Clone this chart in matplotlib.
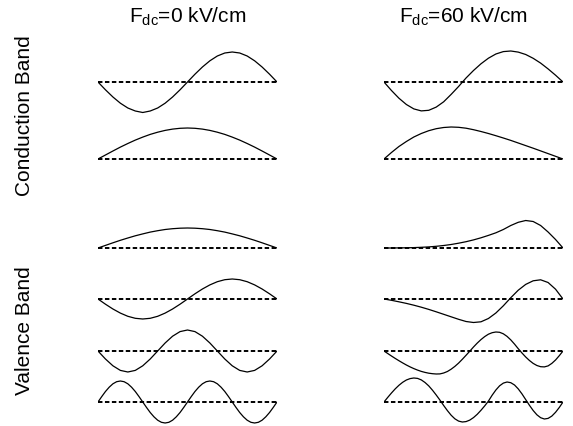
import matplotlib
matplotlib.use("Agg")
import matplotlib.pyplot as plt
import numpy as np

plt.rcParams["font.family"] = ["Liberation Sans", "DejaVu Sans"]
plt.rcParams["mathtext.fontset"] = "custom"
plt.rcParams["mathtext.rm"] = "Liberation Sans"
plt.rcParams["lines.scale_dashes"] = False

# position across the well (0..1): coarse grid, and a finer one for the wiggly states
z = np.linspace(0, 1, 25)
zf = np.linspace(0, 1, 49)

titles = [r"F$_{\rm dc}$=0 kV/cm", r"F$_{\rm dc}$=60 kV/cm"]
band_labels = ["Conduction Band", "Valence Band"]

# wavefunctions (arb. units), F = 0 kV/cm
cb2_0 = [0, -7.8, -15, -21.2, -26, -29, -30.5, -29, -26, -21.2, -15, -7.8, 0,
         7.8, 15, 21.2, 26, 29, 30, 29, 26, 21.2, 15, 7.8, 0]
cb1_0 = [0, 4, 8, 11.9, 15.5, 18.9, 21.9, 24.6, 26.8, 28.6, 29.9, 30.7, 31,
         30.7, 29.9, 28.6, 26.8, 24.6, 21.9, 18.9, 15.5, 11.9, 8, 4, 0]
vb1_0 = [0, 2.6, 5.2, 7.7, 10, 12.2, 14.1, 15.9, 17.3, 18.5, 19.3, 19.8, 20,
         19.8, 19.3, 18.5, 17.3, 15.9, 14.1, 12.2, 10, 7.7, 5.2, 2.6, 0]
vb2_0 = [0, -5.2, -10, -14.1, -17.3, -19.3, -20, -19.3, -17.3, -14.1, -10, -5.2, 0,
         5.2, 10, 14.1, 17.3, 19.3, 20, 19.3, 17.3, 14.1, 10, 5.2, 0]
vb3_0 = [0, -8, -14.8, -19.4, -21, -19.4, -14.8, -8, 0, 8, 14.8, 19.4, 21,
         19.4, 14.8, 8, 0, -8, -14.8, -19.4, -21, -19.4, -14.8, -8, 0]
vb4_0 = [0, 5.4, 10.5, 14.8, 18.2, 20.3, 21, 20.3, 18.2, 14.8, 10.5, 5.4,
         0, -5.4, -10.5, -14.8, -18.2, -20.3, -21, -20.3, -18.2, -14.8, -10.5, -5.4,
         0, 5.4, 10.5, 14.8, 18.2, 20.3, 21, 20.3, 18.2, 14.8, 10.5, 5.4,
         0, -5.4, -10.5, -14.8, -18.2, -20.3, -21, -20.3, -18.2, -14.8, -10.5, -5.4, 0]

# F = 60 kV/cm
cb2_60 = [0, -8.5, -16.2, -22.5, -26.9, -28.9, -28.3, -25.1, -19.8, -12.4, -4.5, 4, 11.5,
          18.2, 23.8, 28, 30.4, 31, 29.9, 27.5, 23.7, 18.9, 13.1, 6.8, 0]
cb1_60 = [0, 6.5, 12.5, 17.5, 22, 25.5, 28.3, 30.3, 31.5, 32, 31.7, 30.8, 29.3,
          27.5, 25.5, 23.3, 21, 18.6, 16, 13.4, 10.8, 8.1, 5.4, 2.7, 0]
vb1_60 = [0, 0, 0.1, 0.2, 0.4, 0.7, 1.1, 1.7, 2.5, 3.5, 4.8, 6.3, 8.1,
          10.2, 12.6, 15.2, 18.5, 22.5, 25.7, 27.5, 26.5, 22.5, 16, 8.5, 0]
vb2_60 = [0, -1.3, -2.8, -4.4, -6.2, -8.2, -10.4, -12.8, -15.3, -17.8, -20.3, -22.5, -23.5,
          -22.8, -19.5, -14, -6.8, 1.3, 8.8, 14.6, 18.2, 19.2, 16.5, 9.8, 0]
vb3_60 = [0, -2.5, -5.0, -7.4, -9.7, -11.9, -14.0, -15.9, -17.6, -19.1, -20.4, -21.4,
          -22.2, -22.7, -23.0, -22.9, -22.0, -20.5, -18.2, -15.4, -12.1, -8.3, -4.3, -0.2,
          4.0, 7.9, 11.4, 14.4, 16.8, 18.3, 19.0, 18.7, 17.2, 14.6, 11.1, 6.9,
          2.3, -2.0, -6.0, -9.5, -12.4, -14.5, -15.7, -15.9, -14.9, -12.4, -9.0, -4.7, 0]
vb4_60 = [0, 4.6, 9.0, 13.1, 16.7, 19.7, 22.0, 23.4, 24.0, 23.6, 22.1, 19.5,
          16.1, 11.8, 7.0, 1.9, -3.5, -8.6, -13.2, -16.8, -19.1, -20.0, -19.6, -18.1,
          -15.6, -12.3, -8.3, -3.9, 0.9, 6.8, 12.0, 16.2, 18.9, 20.0, 19.3, 17.0,
          13.1, 8.1, 2.4, -3.3, -8.5, -12.8, -15.7, -17.0, -16.4, -14.1, -10.3, -5.5, 0]

states_0 = [cb2_0, cb1_0, vb1_0, vb2_0, vb3_0, vb4_0]
states_60 = [cb2_60, cb1_60, vb1_60, vb2_60, vb3_60, vb4_60]

# vertical offsets of each state (figure height = 426)
offsets = [344, 267, 178, 127, 75, 24]

fig = plt.figure(figsize=(5.73, 4.26), dpi=100)

for left, states, title, tx in [(98, states_0, titles[0], 188), (384, states_60, titles[1], 463)]:
    ax = fig.add_axes([left / 573, 0, 179 / 573, 1])
    for psi, off in zip(states, offsets):
        x = z if len(psi) == len(z) else zf
        ax.plot(x, np.array(psi) + off, color="black", lw=0.9)
        ax.plot([0, 1], [off, off], color="black", lw=1.4, dashes=(3.2, 1.8))
    ax.set_xlim(0, 1)
    ax.set_ylim(0, 426)
    ax.axis("off")
    fig.text(tx / 573, 1 - 17 / 426, title, ha="center", va="center", fontsize=15)

fig.text(25 / 573, 1 - 116 / 426, band_labels[0], rotation=90, ha="center", va="center", fontsize=15)
fig.text(25 / 573, 1 - 331 / 426, band_labels[1], rotation=90, ha="center", va="center", fontsize=15)

fig.savefig("out.png", dpi=100)
